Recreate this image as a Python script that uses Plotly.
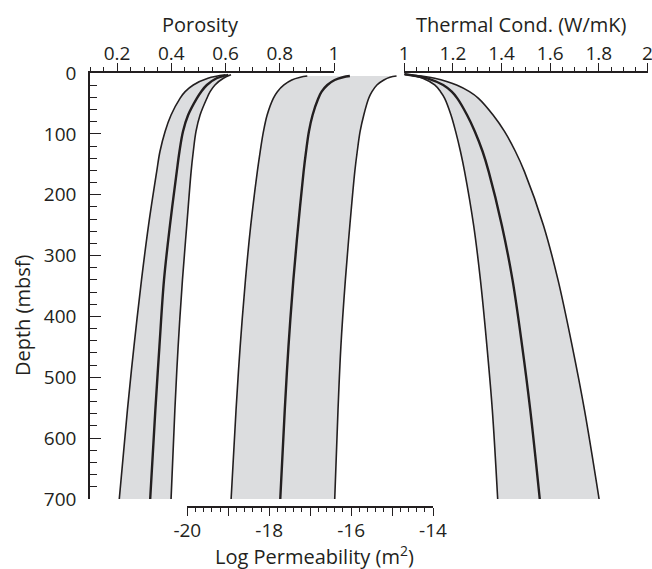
import plotly.graph_objects as go

# ---- depth profiles (mbsf) ----
depth_por = [3, 8.7, 19.7, 30.7, 41.6, 69, 96, 129, 162, 250, 340, 450, 554, 700]
por_min = [0.600, 0.535, 0.481, 0.451, 0.432, 0.399, 0.377, 0.358, 0.346, 0.316, 0.290, 0.262, 0.238, 0.208]
por_mid = [0.610, 0.567, 0.531, 0.510, 0.494, 0.462, 0.443, 0.430, 0.420, 0.395, 0.373, 0.356, 0.341, 0.322]
por_max = [0.620, 0.592, 0.561, 0.543, 0.531, 0.506, 0.491, 0.481, 0.473, 0.457, 0.441, 0.425, 0.413, 0.399]

depth_perm = [5, 7, 11.5, 19.7, 30.7, 41.6, 69, 96, 129, 162, 250, 340, 450, 554, 700]
perm_min = [-17.07, -17.24, -17.45, -17.64, -17.80, -17.90, -18.05, -18.14, -18.22, -18.29, -18.45, -18.58, -18.71, -18.81, -18.93]
perm_mid = [-16.03, -16.20, -16.40, -16.58, -16.72, -16.80, -16.94, -17.03, -17.10, -17.16, -17.29, -17.41, -17.53, -17.62, -17.73]
perm_max = [-14.89, -15.05, -15.20, -15.37, -15.49, -15.57, -15.69, -15.78, -15.85, -15.91, -16.03, -16.14, -16.25, -16.32, -16.40]

depth_tc = [2, 5, 8.7, 19.7, 30.7, 41.6, 69, 96, 129, 162, 250, 340, 450, 554, 700]
tc_min = [1.0, 1.044, 1.076, 1.125, 1.149, 1.166, 1.192, 1.211, 1.231, 1.248, 1.285, 1.313, 1.340, 1.362, 1.384]
tc_mid = [1.0, 1.050, 1.095, 1.160, 1.195, 1.218, 1.258, 1.290, 1.322, 1.347, 1.401, 1.445, 1.485, 1.518, 1.557]
tc_max = [1.0, 1.070, 1.125, 1.215, 1.268, 1.305, 1.365, 1.412, 1.457, 1.494, 1.572, 1.632, 1.691, 1.741, 1.801]

# ---- axis ticks ----
depth_ticks = [0, 100, 200, 300, 400, 500, 600, 700]
por_ticks = [0.2, 0.4, 0.6, 0.8, 1.0]
por_labels = ["0.2", "0.4", "0.6", "0.8", "1"]
tc_ticks = [1.0, 1.2, 1.4, 1.6, 1.8, 2.0]
tc_labels = ["1", "1.2", "1.4", "1.6", "1.8", "2"]
perm_ticks = [-20, -18, -16, -14]
perm_labels = ["-20", "-18", "-16", "-14"]
perm_odd_ticks = [-19, -17, -15]

INK = "#231f20"
BAND = "#dcdddf"
FONT = "Open Sans"
TICK_FS = 19
TITLE_FS = 20

W, H = 652, 569
ML, MR, MT, MB = 90, 2, 73, 62
PW, PH = W - ML - MR, H - MT - MB


def px_x(p):
    return (p - ML) / PW


def px_y(p):
    return (H - MB - p) / PH


SMOOTH = 1.0
fig = go.Figure()


def band(xlo, xhi, depth, xa):
    fig.add_trace(go.Scatter(x=xlo, y=depth, xaxis=xa, yaxis="y", mode="lines",
                             line=dict(width=0, shape="spline", smoothing=SMOOTH),
                             hoverinfo="skip", showlegend=False))
    fig.add_trace(go.Scatter(x=xhi, y=depth, xaxis=xa, yaxis="y", mode="lines",
                             line=dict(width=0, shape="spline", smoothing=SMOOTH),
                             fill="tonextx", fillcolor=BAND,
                             hoverinfo="skip", showlegend=False))


def curve(xv, depth, xa, width):
    fig.add_trace(go.Scatter(x=xv, y=depth, xaxis=xa, yaxis="y", mode="lines",
                             line=dict(color=INK, width=width, shape="spline", smoothing=SMOOTH),
                             showlegend=False))


band(por_min, por_max, depth_por, "x")
band(perm_min, perm_max, depth_perm, "x2")
band(tc_min, tc_max, depth_tc, "x3")

# permeability curves sit on an overlaying axis that carries the odd-integer ticks
for xa, d, lo, mid, hi in [("x", depth_por, por_min, por_mid, por_max),
                           ("x4", depth_perm, perm_min, perm_mid, perm_max),
                           ("x3", depth_tc, tc_min, tc_mid, tc_max)]:
    curve(lo, d, xa, 1.6)
    curve(hi, d, xa, 1.6)
    curve(mid, d, xa, 2.4)

axis_common = dict(showline=True, linecolor=INK, linewidth=1.5, showgrid=False,
                   zeroline=False, tickcolor=INK, tickwidth=1.3, automargin=False,
                   ticklabeloverflow="allow",
                   tickfont=dict(family=FONT, size=TICK_FS, color=INK))
minor_common = dict(tickcolor=INK, tickwidth=1.2)

fig.update_layout(
    width=W, height=H,
    margin=dict(l=ML, r=MR, t=MT, b=MB, autoexpand=False),
    paper_bgcolor="white", plot_bgcolor="rgba(0,0,0,0)",
    font=dict(family=FONT, size=TICK_FS, color=INK),
    xaxis=dict(domain=[0, px_x(334)], range=[0.1, 1.0], side="top", anchor="y",
               tickvals=por_ticks, ticktext=por_labels, ticks="outside", ticklen=8,
               ticklabelstandoff=-4,
               minor=dict(tick0=0, dtick=0.05, ticks="outside", ticklen=4, **minor_common),
               **axis_common),
    xaxis2=dict(domain=[px_x(187.3), px_x(433)], range=[-20, -14], anchor="free",
                position=0, side="bottom",
                tickvals=perm_ticks, ticktext=perm_labels, ticks="outside", ticklen=8,
                ticklabelstandoff=-2,
                minor=dict(tick0=0, dtick=0.2, ticks="outside", ticklen=4, **minor_common),
                **axis_common),
    xaxis4=dict(overlaying="x2", range=[-20, -14], anchor="free", position=0,
                side="bottom", tickvals=perm_odd_ticks, ticks="outside", ticklen=8,
                tickcolor=INK, tickwidth=1.3, showticklabels=False, showline=False,
                showgrid=False, zeroline=False, automargin=False),
    xaxis3=dict(domain=[px_x(404.3), px_x(647.5)], range=[1.0, 2.0], side="top", anchor="y",
                tickvals=tc_ticks, ticktext=tc_labels, ticks="outside", ticklen=8,
                ticklabelstandoff=-4,
                minor=dict(tick0=0, dtick=0.05, ticks="outside", ticklen=4, **minor_common),
                **axis_common),
    yaxis=dict(domain=[px_y(499), 1], range=[700, 0], anchor="x",
               tickvals=depth_ticks, ticks="inside", ticklen=11, ticklabelstandoff=8,
               minor=dict(tick0=0, dtick=20, ticks="inside", ticklen=7, **minor_common),
               **axis_common),
)

titles = [
    ("Porosity", 200, 24, 0),
    ("Thermal Cond. (W/mK)", 521, 24, 0),
    ("Log Permeability (m<sup>2</sup>)", 314, 555, 0),
    ("Depth (mbsf)", 22, 316, -90),
]
for text, x, y, ang in titles:
    fig.add_annotation(text=text, xref="paper", yref="paper", x=px_x(x), y=px_y(y),
                       xanchor="center", yanchor="middle", showarrow=False, textangle=ang,
                       font=dict(family=FONT, size=TITLE_FS, color=INK))

fig.write_html("out.html")
